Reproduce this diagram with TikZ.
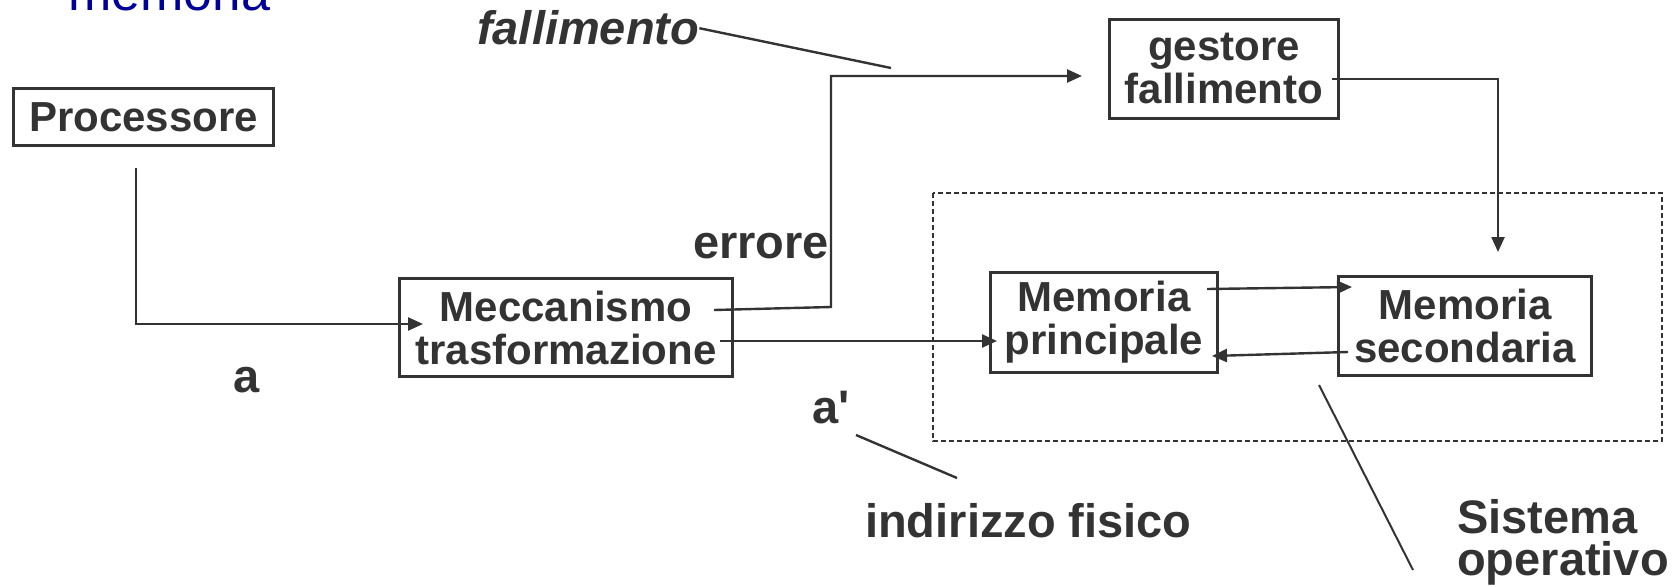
\documentclass[tikz,border=0pt]{standalone}
\usepackage{fontspec}
\usetikzlibrary{arrows.meta}
\newfontfamily\lsans{Liberation Sans}
\definecolor{ink}{HTML}{333333}
\definecolor{titleblue}{HTML}{000099}
\newcommand\boxfont{\lsans\bfseries\fontsize{42}{43}\selectfont}
\newcommand\lblfont{\lsans\bfseries\fontsize{47}{49}\selectfont}
\begin{document}
\begin{tikzpicture}[x=1pt,y=-1pt,
  box/.style={draw=ink, line width=2.6pt, inner sep=0pt, align=center, text=ink, font=\boxfont},
  lbl/.style={inner sep=0pt, text=ink, font=\lblfont},
  conn/.style={draw=ink, line width=2.4pt},
  arr/.style={conn, -{Triangle[length=15pt,width=13pt]}},
  ptr/.style={draw=ink, line width=2pt},
  frame/.style={draw=ink, line width=1.8pt, dash pattern=on 5pt off 3pt},
]
\useasboundingbox (0,0) rectangle (1680,586);

% title line, only its lower part lies on the page
\node[anchor=base west, inner sep=0pt, text=titleblue,
      font=\lsans\fontsize{52}{52}\selectfont] (title) at (68,11) {memoria};

% operating-system frame
\draw[frame] (933,193) rectangle (1662,441);

% blocks
\node[box, minimum width=260pt, minimum height=57pt] (proc) at (143.5,117) {Processore};
\node[box, minimum width=333pt, minimum height=98pt] (mecc) at (566,327.5) {Meccanismo\\trasformazione};
\node[box, minimum width=229pt, minimum height=99pt] (gest) at (1224,69) {gestore\\fallimento};
\node[box, minimum width=227pt, minimum height=100pt] (mp) at (1104,322.5) {Memoria\\principale};
\node[box, minimum width=253pt, minimum height=99pt] (ms) at (1465,326) {Memoria\\secondaria};

% labels
\node[lbl, font=\lblfont\itshape, anchor=base west] (fall) at (477,45) {fallimento};
\node[lbl, anchor=base west] (err) at (693,258) {errore};
\node[lbl, anchor=base] (addr) at (247,392) {a};
\node[lbl, anchor=base west] (addrp) at (812,423) {a'};
\node[lbl, anchor=base west] (phys) at (865,537) {indirizzo fisico};
\node[lbl, anchor=base west] (sysA) at (1457,533) {Sistema};
\node[lbl, anchor=base west] (sysB) at (1457,575) {operativo};

% connector end points
\coordinate (procOut) at (136,168);
\coordinate (meccIn)  at (423,324);
\coordinate (errA)    at (714,310);
\coordinate (errB)    at (831,307);
\coordinate (errC)    at (831,76);
\coordinate (gestIn)  at (1082,76);
\coordinate (gestOut) at (1332,79);
\coordinate (msTop)   at (1498,252);
\coordinate (meccOut) at (720,341);
\coordinate (mpIn)    at (997,341);
\coordinate (mpOut)   at (1207,289);
\coordinate (msIn)    at (1352,287);
\coordinate (msOut)   at (1348,352);
\coordinate (mpBack)  at (1212,356);
\coordinate (fallEnd) at (891,68);
\coordinate (apA)     at (856,435);
\coordinate (apB)     at (957,478);
\coordinate (osA)     at (1319,385);
\coordinate (osB)     at (1413,570);

% connectors
\draw[arr] (procOut) |- (meccIn);
\draw[arr] (errA) -- (errB) -- (errC) -- (gestIn);
\draw[arr] (gestOut) -| (msTop);
\draw[arr] (meccOut) -- (mpIn);
\draw[arr] (mpOut) -- (msIn);
\draw[arr] (msOut) -- (mpBack);

% pointer lines
\draw[ptr, line width=2.4pt] (fall.east) -- (fallEnd);
\draw[ptr, line width=2.4pt] (apA) -- (apB);
\draw[ptr] (osA) -- (osB);
\end{tikzpicture}
\end{document}
